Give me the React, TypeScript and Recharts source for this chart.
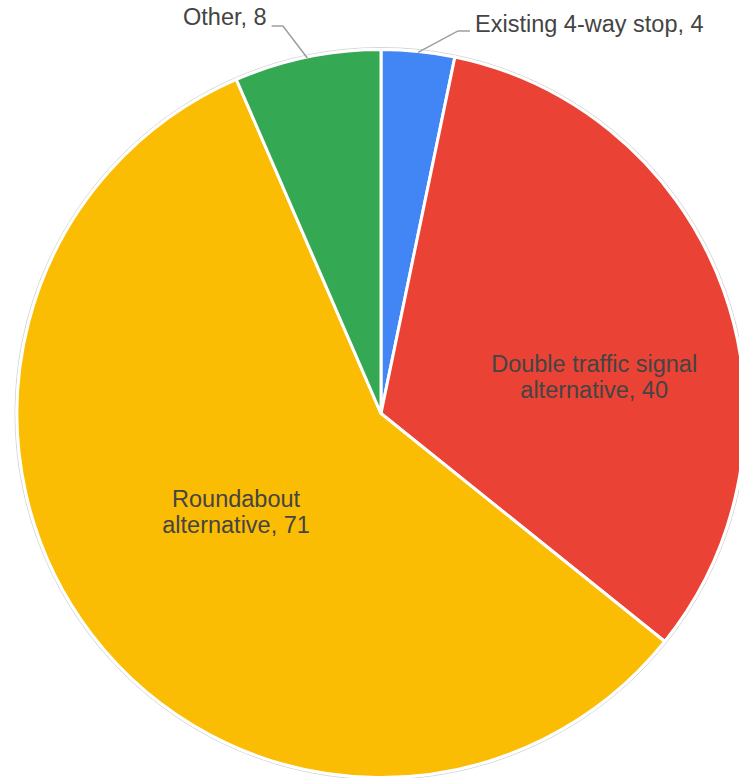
import React from 'react';
import { PieChart, Pie, Cell } from 'recharts';

const categories = [
  'Existing 4-way stop',
  'Double traffic signal alternative',
  'Roundabout alternative',
  'Other',
];
const counts = [4, 40, 71, 8];
const COLORS = ['#4285F4', '#EA4335', '#FBBC04', '#34A853'];

const data = categories.map((name, i) => ({ name, value: counts[i] }));

const W = 739;
const H = 778;
const CX = 381;
const CY = 413.5;
const R = 364;
const FONT = '"Liberation Sans", Arial, sans-serif';
const TEXT = '#444444';
const RAD = Math.PI / 180;

// how each label sits relative to its slice
const labelLayout: Record<number, any> = {
  0: { kind: 'outside', elbow: [40, -21.5], end: 12 },
  1: { kind: 'inside', ratio: 0.594, shift: 10.1 },
  2: { kind: 'inside', ratio: 0.482, shift: 3.0 },
  3: { kind: 'outside', elbow: [-24.4, -32], end: -11.3 },
};

const polar = (cx: number, cy: number, r: number, a: number) => ({
  x: cx + r * Math.cos(-a * RAD),
  y: cy + r * Math.sin(-a * RAD),
});

const renderLabel = (props: any) => {
  const { cx, cy, midAngle, outerRadius, index } = props;
  const lay = labelLayout[index];
  const name = categories[index];
  const value = counts[index];
  if (lay.kind === 'inside') {
    const p = polar(cx, cy, outerRadius * lay.ratio, midAngle - lay.shift);
    const words = name.split(' ');
    const line1 = words.slice(0, -1).join(' ');
    const line2 = `${words[words.length - 1]}, ${value}`;
    return (
      <text
        key={`lbl-${index}`}
        textAnchor="middle"
        fill={TEXT}
        fontFamily={FONT}
        fontSize={23.5}
      >
        <tspan x={p.x} y={p.y - 5}>{line1}</tspan>
        <tspan x={p.x} y={p.y + 21}>{line2}</tspan>
      </text>
    );
  }
  const s = polar(cx, cy, outerRadius - 1, midAngle);
  const ex = s.x + lay.elbow[0];
  const ey = s.y + lay.elbow[1];
  const tx = ex + lay.end;
  const right = lay.end > 0;
  return (
    <g key={`lbl-${index}`}>
      <polyline
        points={`${s.x},${s.y} ${ex},${ey} ${tx},${ey}`}
        fill="none"
        stroke="#9e9e9e"
        strokeWidth={1.5}
      />
      <text
        x={right ? tx + 5 : tx - 5}
        y={right ? ey + 1 : ey - 1}
        textAnchor={right ? 'start' : 'end'}
        fill={TEXT}
        fontFamily={FONT}
        fontSize={23.5}
      >
        {`${name}, ${value}`}
      </text>
    </g>
  );
};

const App: React.FC = () => {
  return (
    <div style={{ position: 'absolute', left: 0, top: 0, width: W, height: H, overflow: 'hidden', background: '#fff' }}>
      <svg width={W} height={H} style={{ position: 'absolute', left: 0, top: 0 }}>
        <circle cx={CX} cy={CY} r={R + 2} fill="none" stroke="#d6d6d6" strokeWidth={1} />
      </svg>
      <div style={{ position: 'absolute', left: 0, top: 0 }}>
        <PieChart width={W} height={H} margin={{ top: 0, right: 0, bottom: 0, left: 0 }}>
          <Pie
            data={data}
            dataKey="value"
            nameKey="name"
            cx={CX}
            cy={CY}
            outerRadius={R}
            startAngle={90}
            endAngle={-270}
            stroke="#ffffff"
            strokeWidth={3}
            label={renderLabel}
            labelLine={false}
            isAnimationActive={false}
          >
            {data.map((entry, index) => (
              <Cell key={`cell-${index}`} fill={COLORS[index % COLORS.length]} />
            ))}
          </Pie>
        </PieChart>
      </div>
    </div>
  );
};

export default App;
